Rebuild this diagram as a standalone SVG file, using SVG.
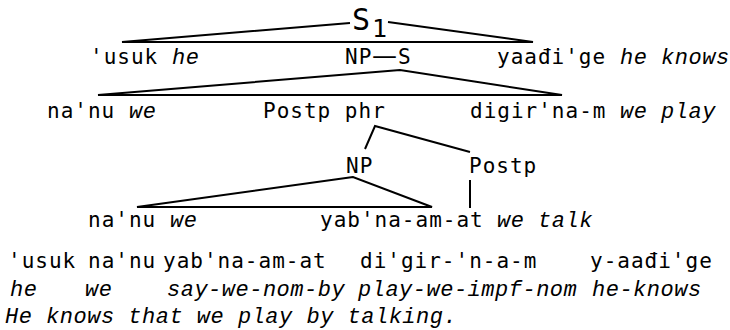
<svg xmlns="http://www.w3.org/2000/svg" width="730" height="330" viewBox="0 0 730 330">
<style>
.t{font-family:"DejaVu Sans Mono",monospace;font-size:21px;letter-spacing:1px;fill:#000}
.i{font-family:"Liberation Mono",monospace;font-style:italic;font-size:22px;letter-spacing:0.5px;fill:#000}
.c{stroke:#000;stroke-width:2;fill:none;stroke-linejoin:miter}
</style>
<rect width="730" height="330" fill="#fff"/>
<g id="connectors">
<path class="c" d="M350,23 L122,42 L533,42 L388,22"/>
<path class="c" d="M400,70 L98,95 L562,95 Z"/>
<path class="c" d="M365,149 L375,126 L470,152"/>
<path class="c" d="M353,177 L137,207 L432,207 Z"/>
<path class="c" d="M470,180 L470,208"/>
</g>
<g id="node-S1">
<text class="t" x="352" y="30" style="font-size:30px">S</text>
<text class="t" x="372" y="37" style="font-size:25px">1</text>
</g>
<g id="node-usuk">
<text class="t" x="90" y="64">'usuk<tspan class="i" x="172">he</tspan></text>
</g>
<g id="node-NP-S">
<text class="t" x="345" y="64">NP<tspan style="font-family:'DejaVu Sans',sans-serif;font-size:25px;letter-spacing:0" x="372">—</tspan><tspan x="398">S</tspan></text>
</g>
<g id="node-yaadige">
<text class="t" x="497" y="64">yaađi'ge<tspan class="i" x="620">he knows</tspan></text>
</g>
<g id="node-nanu1">
<text class="t" x="47" y="118">na'nu<tspan class="i" x="129">we</tspan></text>
</g>
<g id="node-postp-phr">
<text class="t" x="263" y="118">Postp phr</text>
</g>
<g id="node-digirnam">
<text class="t" x="470" y="118">digir'na-m<tspan class="i" x="620">we play</tspan></text>
</g>
<g id="node-NP2">
<text class="t" x="346" y="173">NP</text>
</g>
<g id="node-postp">
<text class="t" x="469" y="173">Postp</text>
</g>
<g id="node-nanu2">
<text class="t" x="88" y="227">na'nu<tspan class="i" x="170">we</tspan></text>
</g>
<g id="node-yabnaamat">
<text class="t" x="320" y="227">yab'na-am-at<tspan class="i" x="497">we talk</tspan></text>
</g>
<g id="gloss">
<text class="t" y="268"><tspan x="8">'usuk</tspan><tspan x="88">na'nu</tspan><tspan x="163">yab'na-am-at</tspan><tspan x="360">di'gir-'n-a-m</tspan><tspan x="590">y-aađi'ge</tspan></text>
<text class="i" y="296"><tspan x="10">he</tspan><tspan x="85">we</tspan><tspan x="167">say-we-nom-by</tspan><tspan x="358">play-we-impf-nom</tspan><tspan x="592">he-knows</tspan></text>
<text class="i" x="5" y="323">He knows that we play by talking.</text>
</g>
</svg>
